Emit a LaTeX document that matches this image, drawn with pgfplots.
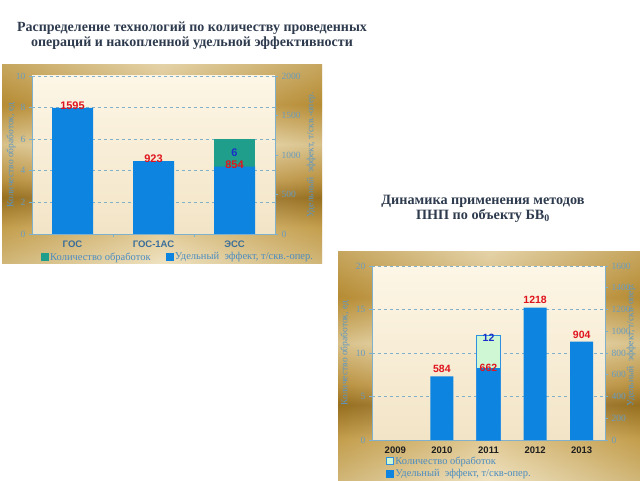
\documentclass[border=0pt]{standalone}
\usepackage{fontspec}
\setmainfont{Liberation Serif}
\setsansfont{Liberation Sans}
\usepackage{pgfplots}
\pgfplotsset{compat=1.18}

\definecolor{gA}{HTML}{E6D3A0}
\definecolor{gB}{HTML}{D2AE5E}
\definecolor{gC}{HTML}{8E6618}
\definecolor{gD}{HTML}{C49C4C}
\definecolor{gE}{HTML}{F2E4BC}
\definecolor{gF}{HTML}{BE9238}
\definecolor{gG}{HTML}{D6BA78}
\definecolor{gEdge}{HTML}{A8802C}
\definecolor{creamTop}{HTML}{FDF6E6}
\definecolor{creamBot}{HTML}{F2E4C6}
\definecolor{barblue}{HTML}{0C84E0}
\definecolor{tealbar}{HTML}{1F9E8C}
\definecolor{lightgreen}{HTML}{CFF7D4}
\definecolor{boxblue}{HTML}{2E90E0}
\definecolor{axcol}{HTML}{7FB0CC}
\definecolor{tickcol}{HTML}{6A9CBE}
\definecolor{legcol}{HTML}{4C8CC0}
\definecolor{ylabcol}{HTML}{5A96C4}
\definecolor{catcol}{HTML}{3A6E9A}
\definecolor{yearcol}{HTML}{1E1E1E}
\definecolor{redlbl}{HTML}{E0141E}
\definecolor{bluelbl}{HTML}{1A2EC8}
\definecolor{titlecol}{HTML}{2E3B4E}

\pgfdeclareverticalshading{goldv}{100bp}{color(0bp)=(gA); color(25bp)=(gA); color(34bp)=(gB); color(41.5bp)=(gC); color(46bp)=(gD); color(55bp)=(gE); color(65bp)=(gF); color(75bp)=(gG); color(100bp)=(gG)}

\pgfplotsset{
  common/.style={
    anchor=south west, scale only axis,
    tick align=outside, major tick length=3pt, minor tick length=3pt,
    axis line style={color=axcol, line width=0.8pt},
    every tick/.style={color=axcol, line width=0.6pt},
    yticklabel style={font=\fontsize{9.5}{10}\selectfont, text=tickcol},
    /pgf/number format/assume math mode=true,
    /pgf/number format/1000 sep={},
    clip=false,
    legend cell align=left,
    legend image code/.code={\draw[##1] (0pt,-3.5pt) rectangle (7pt,3.5pt);},
  },
}

\begin{document}
\begin{tikzpicture}[x=1pt,y=1pt]
\path[use as bounding box, fill=white] (0,0) rectangle (640,480);

% ---------- chart 1 background ----------
\shade[shading=goldv] (2,217) rectangle (322,415);
\shade[left color=gEdge, right color=gEdge, middle color=white, opacity=0.35] (2,217) rectangle (322,415);
\shade[top color=creamTop, bottom color=creamBot] (32,246) rectangle (275,404);

% ---------- chart 2 background ----------
\shade[shading=goldv] (338,0) rectangle (640,228);
\shade[left color=gEdge, right color=gEdge, middle color=white, opacity=0.35] (338,0) rectangle (640,228);
\shade[top color=creamTop, bottom color=creamBot] (372,40) rectangle (605,214);

% ---------- titles ----------
\node[align=center, font=\fontsize{14}{15.5}\selectfont\bfseries, text=titlecol] at (192,444.5)
  {Распределение технологий по количеству проведенных\\операций и накопленной удельной эффективности};
\node[align=center, font=\fontsize{14.2}{15}\selectfont\bfseries, text=titlecol] at (483,271.5)
  {Динамика применения методов\\ПНП по объекту БВ\textsubscript{0}};

% ---------- chart 1 : left axis (count) ----------
\begin{axis}[common, at={(32pt,246pt)}, width=243pt, height=158pt,
  xmin=-0.5, xmax=2.5, ymin=0, ymax=10, ytick={0,2,...,10},
  axis y line*=left, axis x line*=bottom,
  xtick={0,1,2}, xticklabels={ГОС,ГОС-1АС,ЭСС},
  minor xtick={0.5,1.5}, major x tick style={draw=none},
  xticklabel style={font=\fontsize{9.5}{10}\selectfont\sffamily\bfseries, text=catcol},
  ymajorgrids, grid style={dashed, color=axcol, line width=0.6pt}]
\addplot[ybar, bar width=41pt, bar shift=0pt, fill=tealbar, draw=none,
  nodes near coords, point meta=explicit symbolic,
  every node near coord/.append style={anchor=center, yshift=-13.5pt, inner sep=0pt,
    font=\fontsize{11}{12}\selectfont\sffamily\bfseries, text=bluelbl}]
  coordinates {(2,6)[6]};
\end{axis}

% ---------- chart 1 : right axis (effect) ----------
\begin{axis}[common, at={(32pt,246pt)}, width=243pt, height=158pt,
  xmin=-0.5, xmax=2.5, ymin=0, ymax=2000, ytick={0,500,...,2000},
  axis y line*=right, axis x line=none,
  legend style={draw=none, fill=none, at={(0.025,-0.146)}, anchor=west,
    legend columns=2, font=\fontsize{10.5}{12}\selectfont, text=legcol,
    nodes={inner sep=1.5pt},
    /tikz/every even column/.append style={column sep=14pt}}]
\addlegendimage{fill=tealbar, draw=tealbar}
\addlegendentry{Количество обработок}
\addlegendimage{fill=barblue, draw=barblue}
\addlegendentry{Удельный\ \ эффект, т/скв.-опер.}
\addplot[ybar, bar width=41pt, bar shift=0pt, fill=barblue, draw=none, forget plot,
  nodes near coords, point meta=explicit symbolic,
  every node near coord/.append style={anchor=center, yshift=2pt, inner sep=0pt,
    font=\fontsize{11}{12}\selectfont\sffamily\bfseries, text=redlbl}]
  coordinates {(0,1595)[1595] (1,923)[923] (2,854)[854]};
\end{axis}

\node[rotate=90, font=\fontsize{9.5}{10}\selectfont, text=ylabcol] at (11,325) {Количество обработок, ед};
\node[rotate=90, font=\fontsize{9.5}{10}\selectfont, text=ylabcol] at (311,325) {Удельный\ \ эффект, т/скв.-опер.};

% ---------- chart 2 : left axis (count) ----------
\begin{axis}[common, at={(372pt,40pt)}, width=233pt, height=174pt,
  xmin=2008.5, xmax=2013.5, ymin=0, ymax=20, ytick={0,5,...,20},
  axis y line*=left, axis x line*=bottom,
  xtick={2009,2010,2011,2012,2013}, xticklabels={2009,2010,2011,2012,2013},
  major x tick style={draw=none},
  xticklabel style={font=\fontsize{9.5}{10}\selectfont\sffamily\bfseries, text=yearcol},
  ymajorgrids, grid style={dashed, color=axcol, line width=0.6pt}]
\addplot[ybar, bar width=24pt, bar shift=0pt, fill=lightgreen, draw=boxblue, line width=1pt,
  nodes near coords, point meta=explicit symbolic,
  every node near coord/.append style={anchor=center, yshift=-2pt,
    font=\fontsize{10.5}{12}\selectfont\sffamily\bfseries, text=bluelbl}]
  coordinates {(2011,12)[12]};
\end{axis}

% ---------- chart 2 : right axis (effect) ----------
\begin{axis}[common, at={(372pt,40pt)}, width=233pt, height=174pt,
  xmin=2008.5, xmax=2013.5, ymin=0, ymax=1600, ytick={0,200,...,1600},
  axis y line*=right, axis x line=none,
  legend style={draw=none, fill=none, at={(0.047,-0.158)}, anchor=west,
    legend columns=1, font=\fontsize{10.5}{12}\selectfont, text=legcol,
    nodes={inner sep=1.5pt}, row sep=1pt}]
\addlegendimage{fill=lightgreen, draw=boxblue, line width=0.8pt}
\addlegendentry{Количество обработок}
\addlegendimage{fill=barblue, draw=barblue}
\addlegendentry{Удельный\ \ эффект, т/скв-опер.}
\addplot[ybar, bar width=23pt, bar shift=0pt, fill=barblue, draw=none, forget plot,
  nodes near coords, point meta=explicit symbolic,
  every node near coord/.append style={anchor=south, yshift=0pt,
    font=\fontsize{10.5}{12}\selectfont\sffamily\bfseries, text=redlbl}]
  coordinates {(2010,584)[584] (2012,1218)[1218] (2013,904)[904]};
\addplot[ybar, bar width=23pt, bar shift=0pt, fill=barblue, draw=none, forget plot,
  nodes near coords, point meta=explicit symbolic,
  every node near coord/.append style={anchor=center, yshift=0pt,
    font=\fontsize{10.5}{12}\selectfont\sffamily\bfseries, text=redlbl}]
  coordinates {(2011,662)[662]};
\end{axis}

\node[rotate=90, font=\fontsize{9.5}{10}\selectfont, text=ylabcol] at (345,127) {Количество обработок, ед};
\node[rotate=90, font=\fontsize{9.5}{10}\selectfont, text=ylabcol] at (631,135) {Удельный\ \ эффект, т/скв-опер.};
\end{tikzpicture}
\end{document}
